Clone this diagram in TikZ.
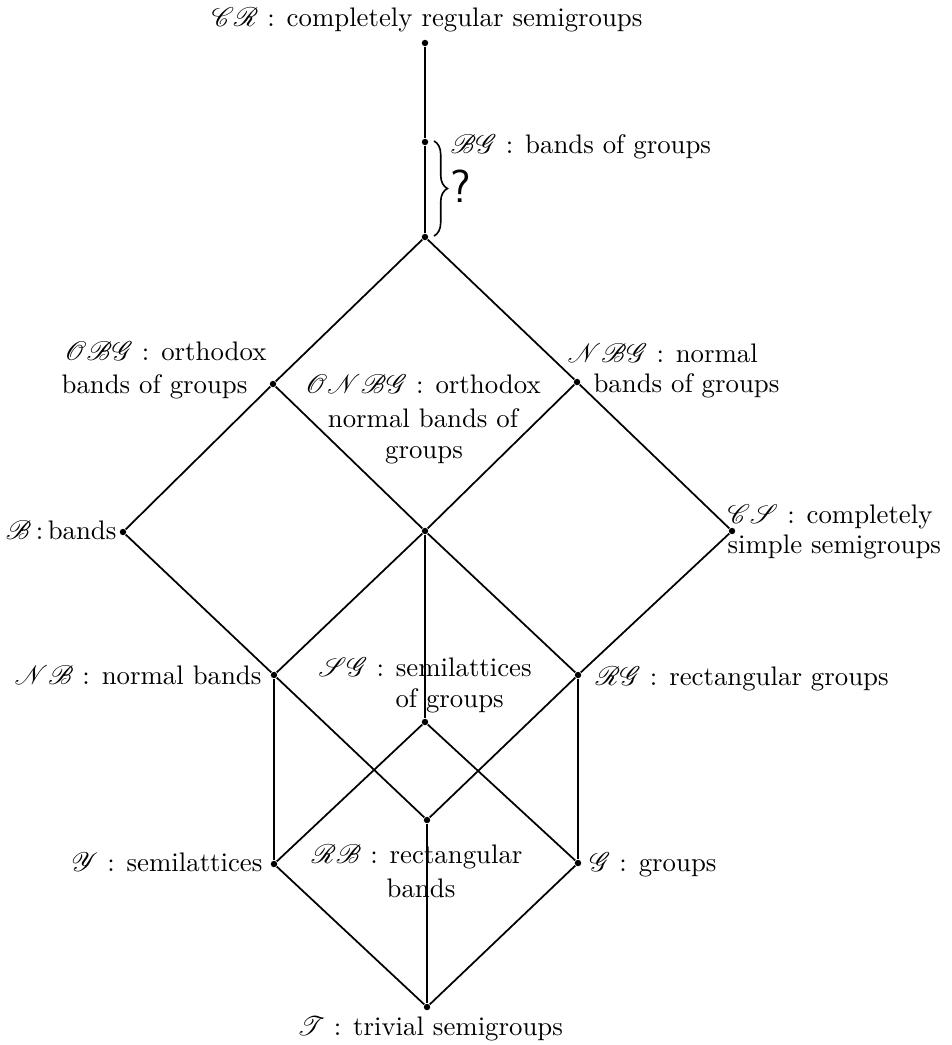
\documentclass[tikz,border=0pt]{standalone}
\usepackage{mathrsfs}
\usetikzlibrary{decorations.pathreplacing}
\begin{document}
\begin{tikzpicture}[x=0.373pt,y=-0.373pt,
  dot/.style={circle,fill=black,inner sep=0pt,minimum size=2.4pt},
  edge/.style={line width=0.65pt},
  lbl/.style={inner sep=0pt,font=\fontsize{10}{12}\selectfont}]
\useasboundingbox (0,0) rectangle (952,1045);
% vertices
\node[dot] (CR) at (425,43) {};
\node[dot] (BG) at (425,142) {};
\node[dot] (TOP) at (425,237) {};
\node[dot] (OBG) at (273,384) {};
\node[dot] (NBG) at (577,382) {};
\node[dot] (B) at (123,532) {};
\node[dot] (ONBG) at (425,531) {};
\node[dot] (CS) at (732,531) {};
\node[dot] (NB) at (274,675) {};
\node[dot] (RG) at (578,675) {};
\node[dot] (SG) at (425,722) {};
\node[dot] (RB) at (427,820) {};
\node[dot] (Y) at (274,864) {};
\node[dot] (G) at (578,863) {};
\node[dot] (T) at (427,1007) {};
% edges
\draw[edge] (CR) -- (BG);
\draw[edge] (BG) -- (TOP);
\draw[edge] (TOP) -- (OBG);
\draw[edge] (TOP) -- (NBG);
\draw[edge] (OBG) -- (B);
\draw[edge] (OBG) -- (ONBG);
\draw[edge] (NBG) -- (ONBG);
\draw[edge] (NBG) -- (CS);
\draw[edge] (B) -- (NB);
\draw[edge] (ONBG) -- (NB);
\draw[edge] (ONBG) -- (RG);
\draw[edge] (ONBG) -- (SG);
\draw[edge] (CS) -- (RG);
\draw[edge] (NB) -- (Y);
\draw[edge] (NB) -- (RB);
\draw[edge] (RG) -- (G);
\draw[edge] (RG) -- (RB);
\draw[edge] (SG) -- (Y);
\draw[edge] (SG) -- (G);
\draw[edge] (RB) -- (T);
\draw[edge] (Y) -- (T);
\draw[edge] (G) -- (T);
% brace
\coordinate (b1) at (434,141);
\coordinate (b2) at (434,236);
\draw[line width=0.6pt,decorate,decoration={brace,amplitude=5pt}] (b1) -- (b2);
\node[lbl,font=\LARGE\sffamily] (Q) at (461,186) {?};
% labels
\node[lbl,anchor=base east] (lCR) at (643,26) {$\mathscr{C}\mathscr{R}$ : completely regular semigroups};
\node[lbl,anchor=base west] (lBG) at (450,153) {$\mathscr{B}\mathscr{G}$ : bands of groups};
\node[lbl,anchor=base east] (lOBGa) at (267,360) {$\mathscr{O}\mathscr{B}\mathscr{G}$ : orthodox};
\node[lbl,anchor=base east] (lOBGb) at (248,393) {bands of groups};
\node[lbl,anchor=base west] (lNBGa) at (567,362) {$\mathscr{N}\mathscr{B}\mathscr{G}$ : normal};
\node[lbl,anchor=base west] (lNBGb) at (593,392) {bands of groups};
\node[lbl,anchor=base] (lONa) at (423,393) {$\mathscr{O}\mathscr{N}\mathscr{B}\mathscr{G}$ : orthodox};
\node[lbl,anchor=base] (lONb) at (423,427) {normal bands of};
\node[lbl,anchor=base] (lONc) at (424,458) {groups};
\node[lbl,anchor=base east] (lB) at (117,539) {$\mathscr{B}$\,:\,bands};
\node[lbl,anchor=base west] (lCSa) at (727,523) {$\mathscr{C}\mathscr{S}$ : completely};
\node[lbl,anchor=base west] (lCSb) at (727,553) {simple semigroups};
\node[lbl,anchor=base east] (lNB) at (262,684) {$\mathscr{N}\mathscr{B}$ : normal bands};
\node[lbl,anchor=base] (lSGa) at (425,676) {$\mathscr{S}\mathscr{G}$ : semilattices};
\node[lbl,anchor=base west] (lSGb) at (395,707) {of groups};
\node[lbl,anchor=base west] (lRG) at (595,685) {$\mathscr{R}\mathscr{G}$ : rectangular groups};
\node[lbl,anchor=base] (lRBa) at (417,863) {$\mathscr{R}\mathscr{B}$ : rectangular};
\node[lbl,anchor=base] (lRBb) at (421,897) {bands};
\node[lbl,anchor=base east] (lY) at (263,871) {$\mathscr{Y}$ : semilattices};
\node[lbl,anchor=base west] (lG) at (589,871) {$\mathscr{G}$ : groups};
\node[lbl,anchor=base] (lT) at (430,1035) {$\mathscr{T}$ : trivial semigroups};
\end{tikzpicture}
\end{document}
